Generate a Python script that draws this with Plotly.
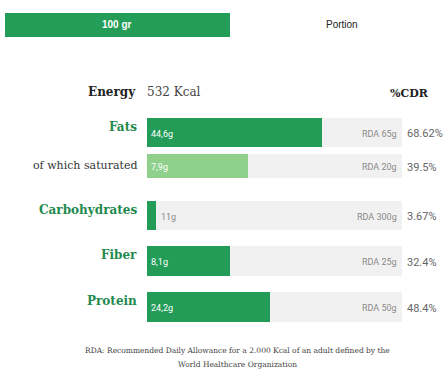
import plotly.graph_objects as go

# ---- data ----
nutrients = ["Fats", "of which saturated", "Carbohydrates", "Fiber", "Protein"]
amounts = ["44,6g", "7,9g", "11g", "8,1g", "24,2g"]
rda = ["RDA 65g", "RDA 20g", "RDA 300g", "RDA 25g", "RDA 50g"]
pct_cdr = [68.62, 39.5, 3.67, 32.4, 48.4]
pct_labels = ["68.62%", "39.5%", "3.67%", "32.4%", "48.4%"]
energy_text = "532 Kcal"

# ---- layout / style (pixel based) ----
W, H = 444, 376
row_y = [132.5, 166, 215.5, 261, 307]       # bar centres (px from top)
row_h = [29, 24, 29, 30, 30]                 # bar thickness (px)
bold_label = [True, False, True, True, True]
bar_colors = ["#229c57", "#8fd08c", "#229c57", "#229c57", "#229c57"]
txt_colors = ["#ffffff", "#ffffff", "#8a8a8a", "#ffffff", "#ffffff"]
txt_outside = [False, False, True, False, False]
GREEN_TXT = "#1f8a4e"
TRACK = "#f1f1f1"
SERIF = "DejaVu Serif"
SANS = "Roboto"

def px(x):
    return x / W

def py(y):
    return 1 - y / H

fig = go.Figure()
# background tracks
fig.add_trace(go.Bar(
    x=[100] * len(nutrients), y=row_y, width=row_h, orientation="h",
    marker=dict(color=TRACK, line=dict(width=0)), hoverinfo="skip", showlegend=False))
# values
fig.add_trace(go.Bar(
    x=pct_cdr, y=row_y, width=row_h, orientation="h",
    marker=dict(color=bar_colors, line=dict(width=0)), showlegend=False,
    hovertext=nutrients, hoverinfo="text+x"))

ann = []

def txt(x, y, text, anchor, font, **kw):
    d = dict(x=x, y=y, xref="paper", yref="paper", text=text, showarrow=False,
             xanchor=anchor, yanchor="middle", font=font)
    d.update(kw)
    ann.append(d)

# header tab
txt(px(117), py(25), "<b>100 gr</b>", "center",
    dict(family="Liberation Sans", size=10, color="white"))
txt(px(342), py(25), "Portion", "center",
    dict(family="Liberation Sans", size=10, color="#222"))
# energy row
txt(px(138), py(92), "<b>Energy</b>", "right", dict(family=SERIF, size=12, color="#222"))
txt(px(145), py(92), energy_text, "left", dict(family=SERIF, size=12, color="#444"))
txt(px(431), py(93), "<b>%CDR</b>", "right", dict(family=SERIF, size=11, color="#222"))

for i, name in enumerate(nutrients):
    yc = row_y[i]
    if bold_label[i]:
        txt(px(139), py(yc - 6), "<b>%s</b>" % name, "right",
            dict(family=SERIF, size=12, color=GREEN_TXT))
    else:
        txt(px(139), py(yc - 1), name, "right", dict(family=SERIF, size=11, color="#333"))
    ann.append(dict(x=pct_cdr[i] if txt_outside[i] else 0, xshift=3 if txt_outside[i] else 2,
                    y=yc + 1, xref="x", yref="y", text=amounts[i],
                    xanchor="left", yanchor="middle", showarrow=False,
                    font=dict(family=SANS, size=9, color=txt_colors[i])))
    txt(px(399), py(yc + 1), rda[i], "right", dict(family=SANS, size=9, color="#8a8a8a"))
    txt(px(405), py(yc + 1), pct_labels[i], "left", dict(family=SANS, size=11, color="#666"))

# footnote
txt(px(237), py(350),
    "RDA: Recommended Daily Allowance for a 2.000 Kcal of an adult defined by the",
    "center", dict(family=SERIF, size=7.5, color="#444"))
txt(px(237), py(364), "World Healthcare Organization",
    "center", dict(family=SERIF, size=7.5, color="#444"))

fig.update_layout(
    width=W, height=H, margin=dict(l=0, r=0, t=0, b=0),
    paper_bgcolor="white", plot_bgcolor="rgba(0,0,0,0)",
    barmode="overlay", bargap=0,
    xaxis=dict(domain=[px(147), px(402)], range=[0, 100], visible=False, fixedrange=True),
    yaxis=dict(domain=[0, 1], range=[H, 0], visible=False, fixedrange=True),
    annotations=ann,
    shapes=[dict(type="rect", xref="paper", yref="paper", x0=px(5), x1=px(230),
                 y0=py(37), y1=py(13), fillcolor="#239d58", line=dict(width=0), layer="below")],
)

fig.write_html("out.html", config={"displayModeBar": False},
               post_script="document.body.style.margin='0';document.body.style.overflow='hidden';")
